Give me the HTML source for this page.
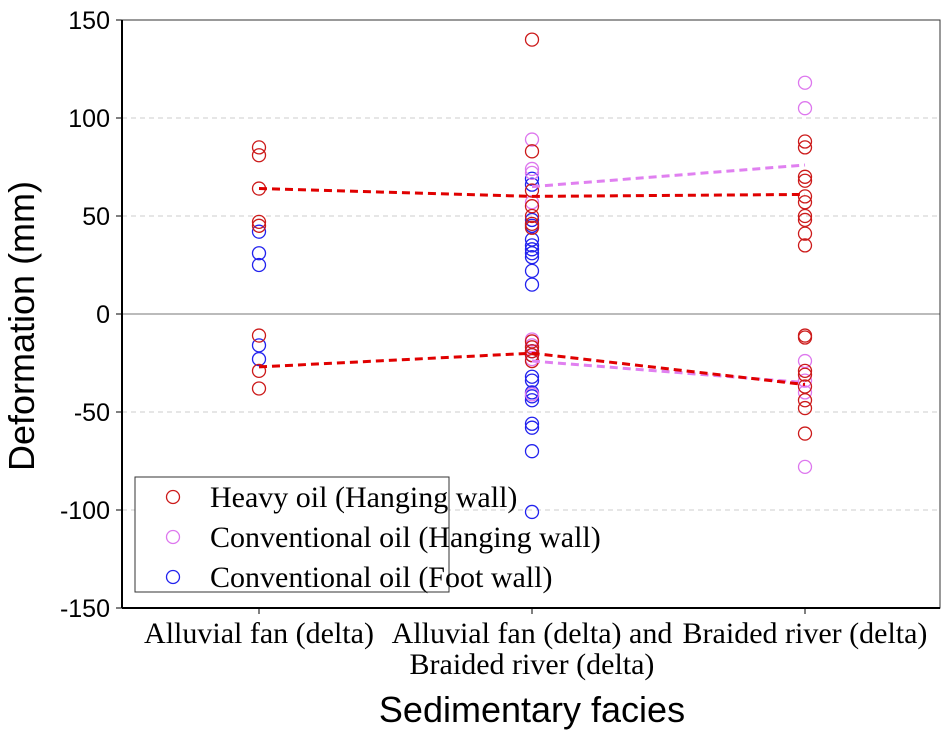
<!DOCTYPE html>
<html><head><meta charset="utf-8"><style>body{margin:0;background:#fff}svg{display:block}</style></head>
<body>
<svg id="c" width="948" height="733" xmlns="http://www.w3.org/2000/svg"></svg>
<script>
const categories=["Alluvial fan (delta)","Alluvial fan (delta) and|Braided river (delta)","Braided river (delta)"];
const yTicks=[150,100,50,0,-50,-100,-150];
const heavyPts=[[85,81,64,47,45,-11,-29,-38],[140,83,63,55,50,46,44,-14,-17,-19,-21,-24],[88,85,70,68,60,57,50,48,41,35,-11,-12,-29,-31,-37,-44,-48,-61]];
const convPts=[[],[89,74,72,57,-13,-16,-23,-41],[118,105,-24,-34,-40,-78]];
const footPts=[[42,31,25,-16,-23],[69,66,48,45,38,35,33,31,29,22,15,-19,-21,-32,-34,-40,-42,-44,-56,-58,-70,-101],[]];
const heavyMeanPos=[64,60,61];
const heavyMeanNeg=[-27,-20,-36];
const convMeanPos=[null,65,76];
const convMeanNeg=[null,-24,-35];
const NS="http://www.w3.org/2000/svg";
const svg=document.getElementById('c');
const L=122,R=940,T=20,B=608;
const y=v=>314-v*1.96;
const x=i=>259+i*273;
function el(t,a,p){const e=document.createElementNS(NS,t);for(const k in a)e.setAttribute(k,a[k]);(p||svg).appendChild(e);return e;}
yTicks.forEach(v=>{
 if(v===0){const l=el('line',{x1:L,x2:R,y1:y(v),y2:y(v),stroke:'#777','stroke-width':1});}
 else if(Math.abs(v)<150){const l=el('line',{x1:L,x2:R,y1:y(v),y2:y(v),stroke:'#ccc','stroke-dasharray':'5,4'});}
 const t=el('text',{x:L-12,y:y(v)+9,'text-anchor':'end','font-family':'Liberation Sans, sans-serif','font-size':25});t.textContent=v;
 
 const tk=el('line',{x1:L-6,x2:L,y1:y(v),y2:y(v),stroke:'#000'});
});
const lg=el('g',{});
el('rect',{x:135,y:477,width:314,height:115,fill:'#fff',stroke:'#333'},lg);
[['Heavy oil (Hanging wall)','#cc1a1a'],['Conventional oil (Hanging wall)','#dd77ee'],['Conventional oil (Foot wall)','#2222ee']].forEach((d,i)=>{
 const g=el('g',{},lg);
 el('circle',{cx:173,cy:497+i*40,r:6.5,fill:'none',stroke:d[1],'stroke-width':1.3},g);
 const t=el('text',{x:210,y:507+i*40,'font-family':'Liberation Serif, serif','font-size':30},g);t.textContent=d[0];
});
const fr=el('rect',{x:L,y:T,width:R-L,height:B-T,fill:'none',stroke:'#333','stroke-width':1});

const ya=el('line',{x1:L,x2:L,y1:T,y2:B,stroke:'#000','stroke-width':2});
const xa=el('line',{x1:L,x2:R,y1:B,y2:B,stroke:'#000','stroke-width':2});
categories.forEach((c,i)=>{
 const tk=el('line',{x1:x(i),x2:x(i),y1:B,y2:B+6,stroke:'#000'});
 c.split('|').forEach((s,j)=>{const t=el('text',{x:x(i),y:643+j*31,'text-anchor':'middle','font-family':'Liberation Serif, serif','font-size':30});t.textContent=s;
 });
});
function pts(arr,col,name){arr.forEach((vs,i)=>vs.forEach(v=>{const c=el('circle',{cx:x(i),cy:y(v),r:6.5,fill:'none',stroke:col,'stroke-width':1.3});
 }));}
pts(footPts,'#2222ee','foot-wall-point');
pts(convPts,'#dd77ee','conventional-hanging-point');
pts(heavyPts,'#cc1a1a','heavy-oil-point');
function line(arr,col,name){const p=[];arr.forEach((v,i)=>{if(v!==null)p.push(x(i)+','+y(v));});
 const l=el('polyline',{points:p.join(' '),fill:'none',stroke:col,'stroke-width':3,'stroke-dasharray':'8,5'});
 }
line(convMeanPos,'#e080f0','conventional-mean-line-positive');
line(convMeanNeg,'#e080f0','conventional-mean-line-negative');
line(heavyMeanPos,'#e00000','heavy-mean-line-positive');
line(heavyMeanNeg,'#e00000','heavy-mean-line-negative');
const xt=el('text',{x:532,y:722,'text-anchor':'middle','font-family':'Liberation Sans, sans-serif','font-size':36});xt.textContent='Sedimentary facies';

const yt=el('text',{x:0,y:0,'text-anchor':'middle','font-family':'Liberation Sans, sans-serif','font-size':36,transform:'translate(34,326) rotate(-90)'});yt.textContent='Deformation (mm)';

</script>
</body></html>
